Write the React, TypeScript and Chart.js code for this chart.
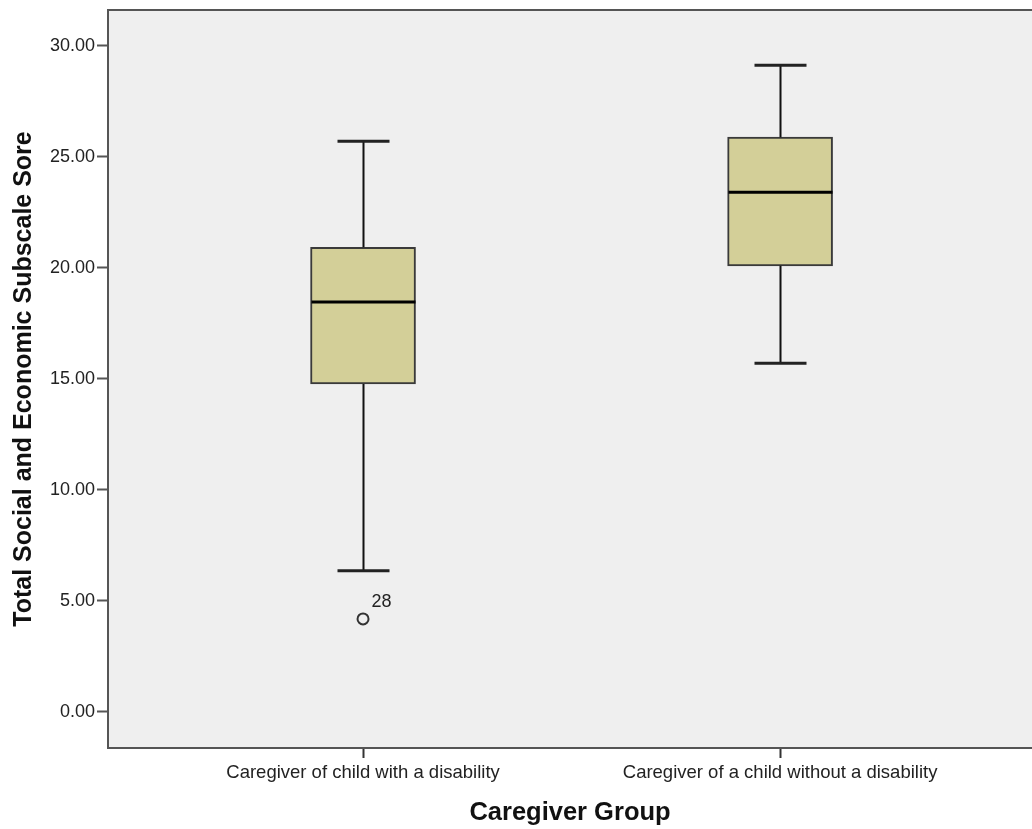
import React, { useEffect, useRef } from "react";
import { Chart, registerables } from "chart.js";

Chart.register(...registerables);

const categories = ["Caregiver of child with a disability", "Caregiver of a child without a disability"];
const whiskerLow = [6.35, 15.7];
const q1 = [14.77, 20.09];
const median = [18.46, 23.41];
const q3 = [20.93, 25.89];
const whiskerHigh = [25.7, 29.13];
const outlierGroup = [1];
const outlierValue = [4.18];
const outlierLabel = ["28"];
const yTicks = [0, 5, 10, 15, 20, 25, 30];

const FONT = "'Liberation Sans', Arial, sans-serif";

const boxPlugin = {
  id: "boxExtras",
  beforeDraw(chart: any) {
    const { ctx, chartArea } = chart;
    ctx.save();
    ctx.fillStyle = "#efefef";
    ctx.fillRect(chartArea.left, chartArea.top, chartArea.right - chartArea.left, chartArea.bottom - chartArea.top);
    ctx.restore();
  },
  afterDraw(chart: any) {
    const { ctx, chartArea } = chart;
    ctx.save();
    ctx.strokeStyle = "#555";
    ctx.lineWidth = 2;
    ctx.beginPath();
    ctx.moveTo(chartArea.left - 1, chartArea.top);
    ctx.lineTo(chartArea.right + 2, chartArea.top);
    ctx.stroke();
    ctx.restore();
  },
  afterDatasetsDraw(chart: any) {
    const { ctx } = chart;
    const xs = chart.scales.x;
    const ys = chart.scales.y;
    ctx.save();
    categories.forEach((_, i) => {
      const cx = Math.round(xs.getPixelForValue(i + 1)) + 0.5;
      const pHi = ys.getPixelForValue(whiskerHigh[i]);
      const pQ3 = ys.getPixelForValue(q3[i]);
      const pQ1 = ys.getPixelForValue(q1[i]);
      const pLo = ys.getPixelForValue(whiskerLow[i]);
      const pMed = ys.getPixelForValue(median[i]);
      const boxHalf = 52;
      const capHalf = 26;
      ctx.strokeStyle = "#111";
      ctx.lineWidth = 2;
      ctx.beginPath();
      ctx.moveTo(cx, pHi);
      ctx.lineTo(cx, pQ3);
      ctx.moveTo(cx, pQ1);
      ctx.lineTo(cx, pLo);
      ctx.stroke();
      ctx.strokeStyle = "#222";
      ctx.lineWidth = 3;
      ctx.beginPath();
      ctx.moveTo(cx - capHalf, pHi);
      ctx.lineTo(cx + capHalf, pHi);
      ctx.moveTo(cx - capHalf, pLo);
      ctx.lineTo(cx + capHalf, pLo);
      ctx.stroke();
      ctx.strokeStyle = "#000";
      ctx.lineWidth = 3;
      ctx.beginPath();
      ctx.moveTo(cx - boxHalf, pMed);
      ctx.lineTo(cx + boxHalf, pMed);
      ctx.stroke();
    });
    ctx.fillStyle = "#222";
    ctx.font = `18px ${FONT}`;
    ctx.textBaseline = "alphabetic";
    ctx.textAlign = "left";
    outlierValue.forEach((v, i) => {
      const px = xs.getPixelForValue(outlierGroup[i]);
      const py = ys.getPixelForValue(v);
      ctx.fillText(outlierLabel[i], px + 8.5, py - 12);
    });
    ctx.restore();
  },
};

export default function App() {
  const ref = useRef<HTMLCanvasElement | null>(null);
  useEffect(() => {
    if (!ref.current) return;
    const chart = new Chart(ref.current, {
      type: "bar",
      data: {
        datasets: [
          {
            type: "bar",
            data: categories.map((_, i) => ({ x: i + 1, y: [q1[i], q3[i]] })) as any,
            backgroundColor: "#d3cf98",
            borderColor: "#3a3a3a",
            borderWidth: 2,
            borderSkipped: false,
            barThickness: 105,
          } as any,
          {
            type: "scatter",
            data: outlierValue.map((v, i) => ({ x: outlierGroup[i], y: v })),
            pointStyle: "circle",
            pointRadius: 5.5,
            pointHoverRadius: 5.5,
            pointBorderWidth: 2,
            pointBorderColor: "#333",
            pointBackgroundColor: "rgba(0,0,0,0)",
          } as any,
        ],
      },
      options: {
        responsive: false,
        animation: false,
        layout: { autoPadding: false, padding: { top: 10, left: 0, right: 0, bottom: 0 } },
        plugins: { legend: { display: false }, tooltip: { enabled: false } },
        scales: {
          x: {
            type: "linear",
            min: 0.3885,
            max: 2.604,
            offset: false,
            grid: { display: true, drawOnChartArea: false, drawTicks: true, tickLength: 10, tickColor: "#333", tickWidth: 2, offset: false },
            border: { display: true, color: "#555", width: 2 },
            afterBuildTicks: (scale: any) => {
              scale.ticks = categories.map((_, i) => ({ value: i + 1 }));
            },
            afterFit: (scale: any) => {
              scale.height = 81;
              scale.paddingLeft = 0;
              scale.paddingRight = 0;
            },
            ticks: {
              autoSkip: false,
              maxRotation: 0,
              minRotation: 0,
              padding: 4,
              color: "#222",
              font: { family: FONT, size: 18.5 },
              callback: (v: any) => categories[Math.round(Number(v)) - 1] ?? "",
            },
            title: {
              display: true,
              text: "Caregiver Group",
              color: "#111",
              font: { family: FONT, size: 25.5, weight: "bold" },
              padding: { top: 0, bottom: 1 },
            },
          },
          y: {
            type: "linear",
            min: -1.636,
            max: 31.62,
            grid: { display: true, drawOnChartArea: false, drawTicks: true, tickLength: 11, tickColor: "#555", tickWidth: 2 },
            border: { display: true, color: "#555", width: 2 },
            afterBuildTicks: (scale: any) => {
              scale.ticks = yTicks.map((v) => ({ value: v }));
            },
            afterFit: (scale: any) => {
              scale.width = 108;
              scale.paddingTop = 0;
              scale.paddingBottom = 0;
            },
            ticks: {
              padding: 2,
              color: "#222",
              font: { family: FONT, size: 18 },
              callback: (v: any) => Number(v).toFixed(2),
            },
            title: {
              display: true,
              text: "Total Social and Economic Subscale Sore",
              color: "#111",
              font: { family: FONT, size: 25, weight: "bold" },
              padding: { top: 9, bottom: 0 },
            },
          },
        },
      },
      plugins: [boxPlugin],
    });
    return () => chart.destroy();
  }, []);
  return (
    <div style={{ position: "absolute", left: 0, top: 0, width: 1032, height: 829, background: "#fff" }}>
      <canvas ref={ref} width={1032} height={829} style={{ display: "block" }} />
    </div>
  );
}
